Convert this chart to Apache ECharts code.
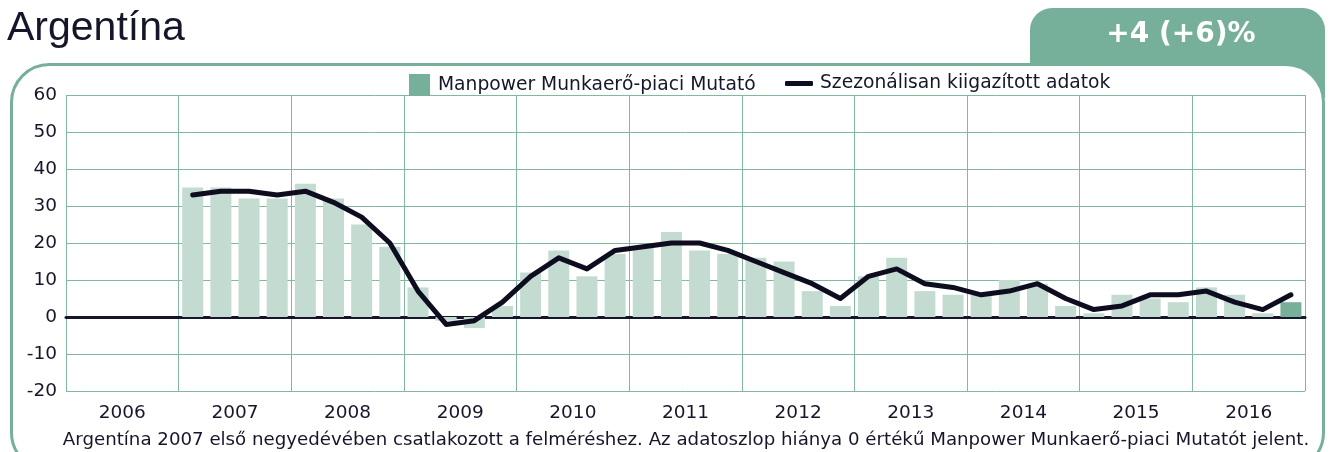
<!DOCTYPE html>
<html>
<head>
<meta charset="utf-8">
<script src="https://cdn.jsdelivr.net/npm/echarts@6/dist/echarts.min.js"></script>
<style>
  html, body { margin: 0; padding: 0; background: #fff; }
  #chart { width: 1335px; height: 452px; }
</style>
</head>
<body>
<div id="chart"></div>
<script>
// years on the axis, 4 quarters each
const years = ['2006', '2007', '2008', '2009', '2010', '2011', '2012', '2013', '2014', '2015', '2016'];
const yTicks = [-20, -10, 0, 10, 20, 30, 40, 50, 60];

// Manpower Munkaerő-piaci Mutató, 2006 Q1 .. 2016 Q4 (no data before 2007)
const mutato = [
  null, null, null, null,
  35, 35, 32, 32,
  36, 32, 25, 19,
  8, -1, -3, 3,
  12, 18, 11, 17,
  19, 23, 18, 17,
  16, 15, 7, 3,
  11, 16, 7, 6,
  6, 10, 9, 3,
  1, 6, 5, 4,
  8, 6, 1, 4
];

// Szezonálisan kiigazított adatok
const kiigazitott = [
  null, null, null, null,
  33, 34, 34, 33,
  34, 31, 27, 20,
  7, -2, -1, 4,
  11, 16, 13, 18,
  19, 20, 20, 18,
  15, 12, 9, 5,
  11, 13, 9, 8,
  6, 7, 9, 5,
  2, 3, 6, 6,
  7, 4, 2, 6
];

const quarters = [];
years.forEach(y => { for (let q = 1; q <= 4; q++) quarters.push(y + ' Q' + q); });

const green = '#77b09a';
const lightGreen = '#c3dbd1';
const gridColor = '#80b99f';
const dark = '#0d0d1f';
const txt = '#16162a';
const font = 'DejaVu Sans';

const barData = mutato.map((v, i) => i === mutato.length - 1
  ? { value: v, itemStyle: { color: green } }
  : v);

const chart = echarts.init(document.getElementById('chart'));

chart.setOption({
  animation: false,
  textStyle: { fontFamily: font },
  graphic: [
    // tab on the right
    {
      type: 'rect', z: -10,
      shape: { x: 1030, y: 8, width: 295, height: 90, r: [22, 22, 0, 0] },
      style: { fill: green }
    },
    // frame
    {
      type: 'rect', z: -9,
      shape: { x: 11.5, y: 64.5, width: 1312, height: 406, r: 38 },
      style: { fill: '#fff', stroke: green, lineWidth: 3 }
    },
    {
      type: 'text', left: 7, top: 8,
      style: { text: 'Argentína', fontSize: 41, fontFamily: 'Liberation Sans', fill: txt }
    },
    {
      type: 'text', x: 1181, y: 35,
      style: {
        text: '+4 (+6)%', fontSize: 28, fontWeight: 'bold', fontFamily: font,
        fill: '#fff', align: 'center', verticalAlign: 'middle'
      }
    },
    {
      type: 'text', x: 686, y: 440,
      style: {
        text: 'Argentína 2007 első negyedévében csatlakozott a felméréshez. Az adatoszlop hiánya 0 értékű Manpower Munkaerő-piaci Mutatót jelent.',
        fontSize: 18.2, fontFamily: font, fill: txt, align: 'center', verticalAlign: 'middle'
      }
    }
  ],
  legend: [
    {
      left: 404, top: 69,
      itemWidth: 21, itemHeight: 22,
      textStyle: { fontSize: 18.7, color: txt, padding: [0, 0, 0, 3] },
      data: [{ name: 'Manpower Munkaerő-piaci Mutató', icon: 'rect', itemStyle: { color: green } }]
    },
    {
      left: 780, top: 69,
      itemWidth: 28, itemHeight: 5,
      textStyle: { fontSize: 18.7, color: txt, padding: [0, 0, 0, 2] },
      data: [{ name: 'Szezonálisan kiigazított adatok', icon: 'roundRect' }]
    }
  ],
  grid: { left: 66, right: 30, top: 95, bottom: 61, containLabel: false },
  xAxis: [
    {
      type: 'category',
      data: quarters,
      axisLine: { show: true, onZero: true, lineStyle: { color: txt, width: 3 } },
      axisTick: { show: false },
      axisLabel: { show: false },
      splitLine: { show: false }
    },
    {
      type: 'category',
      data: years,
      position: 'bottom',
      boundaryGap: true,
      axisLine: { show: false, onZero: false },
      axisTick: { show: false },
      axisLabel: { show: true, fontSize: 18.5, color: txt, margin: 13, interval: 0 },
      splitLine: { show: true, interval: 0, lineStyle: { color: gridColor, width: 1 } }
    }
  ],
  yAxis: {
    type: 'value',
    min: -20, max: 60, interval: 10,
    axisLine: { show: false },
    axisTick: { show: false },
    axisLabel: { fontSize: 18.5, color: txt, margin: 9 },
    splitLine: { lineStyle: { color: gridColor, width: 1 } }
  },
  series: [
    {
      name: 'Manpower Munkaerő-piaci Mutató',
      type: 'bar',
      xAxisIndex: 0,
      data: barData,
      barWidth: 21,
      itemStyle: { color: lightGreen },
      z: 2
    },
    {
      name: 'Szezonálisan kiigazított adatok',
      type: 'line',
      xAxisIndex: 0,
      data: kiigazitott,
      symbol: 'none',
      lineStyle: { color: dark, width: 5, cap: 'round', join: 'round' },
      itemStyle: { color: dark },
      z: 5
    }
  ]
});
</script>
</body>
</html>
